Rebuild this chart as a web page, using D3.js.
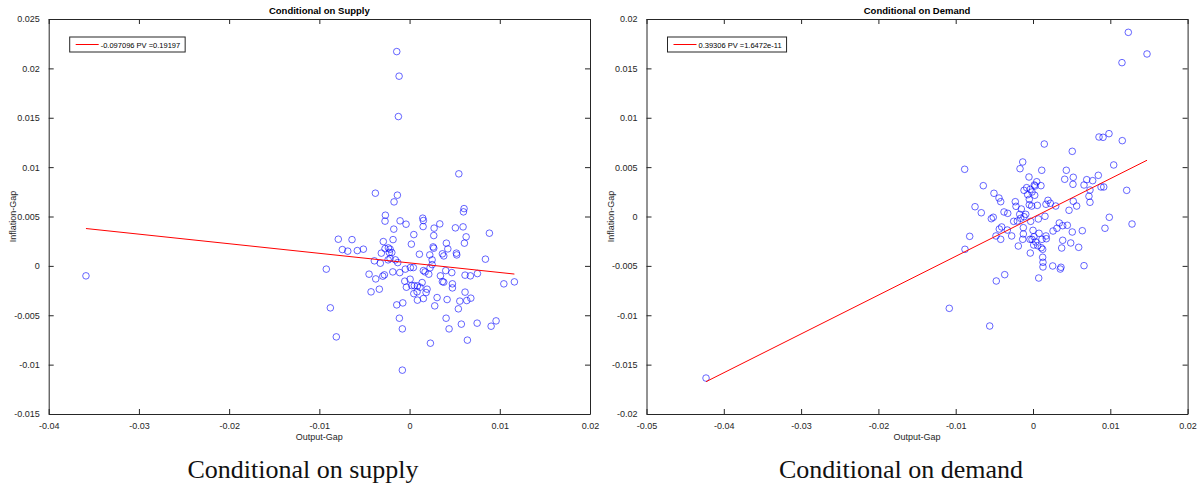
<!DOCTYPE html>
<html>
<head>
<meta charset="utf-8">
<script src="https://cdn.jsdelivr.net/npm/d3@7"></script>
<style>
  body { margin: 0; background: #fff; }
  svg { display: block; font-family: "Liberation Sans", Arial, sans-serif; }
</style>
</head>
<body>
<svg id="chart" width="1203" height="486"></svg>
<script>
// ---- supply shocks (left panel) ----
const supplyX = [
  -0.00142, -0.00116, -0.00124, 0.00546, -0.00379, -0.00135, -0.00172, -0.00268, -0.00272, -0.00105,
  -0.00039, 0.00146, 0.00153, 0.00604, 0.00597, 0.00335, 0.00150, 0.00272, -0.00175, 0.00508,
  0.00593, 0.00885, 0.00627, 0.00268, 0.00047, -0.00790, -0.00638, -0.00291, -0.00183, 0.00408,
  0.00608, 0.00020, -0.00745, -0.00685, -0.00579, -0.00512, -0.00272, -0.00235, -0.00216, 0.00261,
  0.00268, 0.00424, -0.00313, -0.00224, -0.00197, 0.00109, 0.00224, 0.00364, 0.00379, 0.00519,
  0.00523, 0.00841, -0.00390, -0.00324, -0.00238, -0.00216, -0.00157, -0.00131, 0.00250, 0.00250,
  0.00227, -0.00923, 0.00009, 0.00042, -0.00047, 0.00153, 0.00172, -0.00109, -0.00186, -0.00449,
  -0.00297, -0.00279, -0.00375, 0.00213, 0.00342, 0.00401, 0.00468, 0.00615, 0.00674, 0.00752,
  0.01162, 0.01045, -0.00053, 0.00006, 0.00139, 0.00364, 0.00379, 0.00475, 0.00475, -0.00035,
  0.00024, 0.00053, 0.00087, 0.00116, 0.00194, 0.00183, 0.00047, 0.00083, -0.00335, -0.00427,
  0.00615, 0.00305, 0.00153, 0.00087, 0.00416, 0.00557, 0.00634, 0.00679, -0.00142, -0.00075,
  0.00279, 0.00541, -0.00878, -0.00113, 0.00405, -0.00080, 0.00438, 0.00574, 0.00749, 0.00904,
  0.00959, -0.00812, 0.00231, 0.00641, -0.00080, -0.03587
];
const supplyY = [
  0.02170, 0.01921, 0.01512, 0.00932, 0.00736, 0.00716, 0.00648, 0.00513, 0.00453, 0.00456,
  0.00422, 0.00483, 0.00459, 0.00580, 0.00547, 0.00425, 0.00398, 0.00382, 0.00372, 0.00385,
  0.00395, 0.00331, 0.00294, 0.00307, 0.00317, 0.00270, 0.00266, 0.00246, 0.00266, 0.00230,
  0.00230, 0.00220, 0.00165, 0.00149, 0.00155, 0.00169, 0.00175, 0.00182, 0.00169, 0.00192,
  0.00179, 0.00172, 0.00129, 0.00135, 0.00135, 0.00118, 0.00111, 0.00122, 0.00101, 0.00129,
  0.00111, 0.00068, 0.00051, 0.00027, 0.00061, 0.00074, 0.00061, 0.00033, 0.00061, 0.00013,
  -0.00020, -0.00033, -0.00017, -0.00017, -0.00033, -0.00048, -0.00061, -0.00068, -0.00061, -0.00084,
  -0.00104, -0.00091, -0.00132, -0.00084, -0.00101, -0.00048, -0.00068, -0.00094, -0.00101, -0.00078,
  -0.00162, -0.00182, -0.00155, -0.00135, -0.00169, -0.00159, -0.00165, -0.00182, -0.00223, -0.00216,
  -0.00200, -0.00200, -0.00203, -0.00216, -0.00236, -0.00270, -0.00281, -0.00263, -0.00236, -0.00263,
  -0.00266, -0.00321, -0.00331, -0.00347, -0.00341, -0.00357, -0.00351, -0.00327, -0.00395, -0.00375,
  -0.00405, -0.00435, -0.00425, -0.00530, -0.00530, -0.00638, -0.00638, -0.00590, -0.00580, -0.00611,
  -0.00557, -0.00719, -0.00783, -0.00752, -0.01056, -0.00101
];

// ---- demand shocks (right panel) ----
const demandX = [
  0.01233, 0.01475, 0.01151, 0.00983, 0.00854, 0.00906, 0.01155, 0.00146, 0.00508, 0.01044,
  -0.00884, -0.00133, -0.00168, 0.00113, 0.00431, -0.00052, 0.00521, 0.00410, 0.00695, 0.00772,
  0.00845, -0.00643, 0.00048, 0.00017, 0.00103, -0.00082, -0.00035, -0.00116, 0.00517, 0.00660,
  0.00737, 0.00880, 0.00915, 0.01212, -0.00505, -0.00440, -0.00069, 0.00022, 0.00724, 0.00737,
  0.00026, -0.00013, -0.00418, -0.00048, -0.00229, -0.00220, -0.00048, -0.00017, 0.00056, 0.00194,
  0.00168, 0.00224, 0.00294, 0.00521, 0.00565, 0.00466, -0.00750, -0.00669, -0.00375, -0.00327,
  -0.00151, -0.00172, -0.00159, -0.00094, -0.00116, -0.00030, -0.00250, -0.00203, 0.00155, 0.00069,
  0.00987, 0.00931, -0.00539, -0.00514, -0.00436, -0.00405, -0.00332, -0.00125, 0.00000, 0.00340,
  0.00310, 0.00259, 0.00444, 0.00384, 0.00508, 0.00638, -0.00819, -0.00479, -0.00418, -0.00276,
  -0.00125, -0.00133, -0.00039, -0.00013, 0.00013, 0.00078, 0.00116, 0.00168, 0.00172, 0.00035,
  0.00009, 0.00061, 0.00107, 0.00125, -0.00190, 0.00384, 0.00488, 0.00591, 0.00371, -0.00880,
  -0.00035, 0.00125, 0.00129, 0.00129, 0.00255, 0.00362, 0.00353, 0.00660, -0.00366, -0.00475,
  0.00074, -0.01083, -0.00560, -0.04230, 0.01281
];
const demandY = [
  0.01865, 0.01646, 0.01558, 0.00839, 0.00805, 0.00802, 0.00768, 0.00734, 0.00660, 0.00522,
  0.00478, 0.00552, 0.00484, 0.00468, 0.00468, 0.00400, 0.00397, 0.00377, 0.00373, 0.00363,
  0.00417, 0.00312, 0.00352, 0.00319, 0.00312, 0.00292, 0.00275, 0.00265, 0.00326, 0.00319,
  0.00268, 0.00299, 0.00299, 0.00265, 0.00235, 0.00187, 0.00221, 0.00215, 0.00205, 0.00144,
  0.00309, 0.00248, 0.00150, 0.00174, 0.00150, 0.00103, 0.00119, 0.00106, 0.00113, 0.00164,
  0.00124, 0.00134, 0.00106, 0.00154, 0.00106, 0.00063, 0.00099, 0.00038, 0.00046, 0.00032,
  0.00076, 0.00022, -0.00018, 0.00022, -0.00002, -0.00049, -0.00049, -0.00046, 0.00002, -0.00025,
  -0.00008, -0.00119, -0.00022, -0.00008, -0.00127, -0.00106, -0.00137, -0.00113, -0.00140, -0.00066,
  -0.00119, -0.00147, -0.00089, -0.00093, -0.00157, -0.00144, -0.00201, -0.00197, -0.00231, -0.00197,
  -0.00177, -0.00231, -0.00231, -0.00231, -0.00205, -0.00170, -0.00231, -0.00197, -0.00225, -0.00258,
  -0.00289, -0.00296, -0.00316, -0.00332, -0.00299, -0.00241, -0.00268, -0.00312, -0.00319, -0.00332,
  -0.00370, -0.00413, -0.00464, -0.00511, -0.00501, -0.00514, -0.00532, -0.00498, -0.00589, -0.00653,
  -0.00623, -0.00930, -0.01109, -0.01636, -0.00076
];

// regression results (slope from legend, intercept)
const supplyFit = { slope: -0.097096, intercept: 0.0003, pv: "0.19197" };
const demandFit = { slope: 0.39306, intercept: -0.0001, pv: "1.6472e-11" };

// tick values
const supplyXTicks = [-0.04, -0.03, -0.02, -0.01, 0, 0.01, 0.02];
const supplyYTicks = [-0.015, -0.01, -0.005, 0, 0.005, 0.01, 0.015, 0.02, 0.025];
const demandXTicks = [-0.05, -0.04, -0.03, -0.02, -0.01, 0, 0.01, 0.02];
const demandYTicks = [-0.02, -0.015, -0.01, -0.005, 0, 0.005, 0.01, 0.015, 0.02];

const svg = d3.select("#chart");
svg.append("rect").attr("width", 1203).attr("height", 486).attr("fill", "#fff");

const axisColor = "#262626";
const fmt = (v) => (v === 0 ? "0" : String(+v.toFixed(4)));

function drawPanel(opts) {
  const { left, right, top, bottom } = opts;
  const xs = opts.xs, ys = opts.ys;

  const xScale = d3.scaleLinear().domain(d3.extent(opts.xTicks)).range([left, right]);
  const yScale = d3.scaleLinear().domain(d3.extent(opts.yTicks)).range([bottom, top]);

  const g = svg.append("g");

  // points
  g.append("g")
    .selectAll("circle")
    .data(xs.map((x, i) => [x, ys[i]]))
    .enter()
    .append("circle")
    .attr("cx", (d) => xScale(d[0]))
    .attr("cy", (d) => yScale(d[1]))
    .attr("r", 3.3)
    .attr("fill", "none")
    .attr("stroke", "#0000ff")
    .attr("stroke-width", 0.6);

  // fitted line over the range of the data
  const [x0, x1] = d3.extent(xs);
  const f = (x) => opts.fit.intercept + opts.fit.slope * x;
  g.append("line")
    .attr("x1", xScale(x0))
    .attr("y1", yScale(f(x0)))
    .attr("x2", xScale(x1))
    .attr("y2", yScale(f(x1)))
    .attr("stroke", "#ff0000")
    .attr("stroke-width", 1);

  // axes (MATLAB box style, ticks inward)
  const bottomAxis = d3.axisBottom(xScale).tickValues(opts.xTicks).tickFormat(fmt).tickSizeInner(-5).tickSizeOuter(0).tickPadding(9);
  const topAxis = d3.axisTop(xScale).tickValues(opts.xTicks).tickFormat("").tickSizeInner(-5).tickSizeOuter(0);
  const leftAxis = d3.axisLeft(yScale).tickValues(opts.yTicks).tickFormat(fmt).tickSizeInner(-5).tickSizeOuter(0).tickPadding(9);
  const rightAxis = d3.axisRight(yScale).tickValues(opts.yTicks).tickFormat("").tickSizeInner(-5).tickSizeOuter(0);

  const axes = [
    [bottomAxis, `translate(0,${bottom})`],
    [topAxis, `translate(0,${top})`],
    [leftAxis, `translate(${left},0)`],
    [rightAxis, `translate(${right},0)`],
  ];
  axes.forEach(([ax, tr]) => {
    const a = g.append("g").attr("transform", tr).call(ax);
    a.select(".domain").attr("stroke", axisColor).attr("stroke-width", 1);
    a.selectAll(".tick line").attr("stroke", axisColor).attr("stroke-width", 1);
    a.selectAll(".tick text").attr("fill", axisColor).style("font-size", "9px").style("font-family", "Liberation Sans, Arial, sans-serif");
  });

  // title
  g.append("text")
    .attr("x", (left + right) / 2)
    .attr("y", top - 5)
    .attr("text-anchor", "middle")
    .style("font-size", "9.5px")
    .style("font-weight", "bold")
    .attr("fill", "#000")
    .text(opts.title);

  // axis labels
  g.append("text")
    .attr("x", (left + right) / 2)
    .attr("y", bottom + 26)
    .attr("text-anchor", "middle")
    .style("font-size", "9px")
    .attr("fill", axisColor)
    .text("Output-Gap");

  g.append("text")
    .attr("transform", `translate(${left - 33},${(top + bottom) / 2}) rotate(-90)`)
    .attr("text-anchor", "middle")
    .style("font-size", "9px")
    .attr("fill", axisColor)
    .text("Inflation-Gap");

  // legend
  const lg = g.append("g").attr("transform", `translate(${left + 21},${top + 18})`);
  const label = `${opts.fit.slope} PV =${opts.fit.pv}`;
  const lt = lg.append("text")
    .attr("x", 31)
    .attr("y", 10.5)
    .style("font-size", "7.5px")
    .attr("fill", "#000")
    .text(label);
  const tw = lt.node().getComputedTextLength();
  lg.insert("rect", "text")
    .attr("width", 31 + tw + 5)
    .attr("height", 15)
    .attr("fill", "#fff")
    .attr("stroke", axisColor)
    .attr("stroke-width", 1);
  lg.append("line")
    .attr("x1", 6).attr("x2", 29)
    .attr("y1", 7.5).attr("y2", 7.5)
    .attr("stroke", "#ff0000")
    .attr("stroke-width", 1);

  // caption below (centred on its half of the page)
  svg.append("text")
    .attr("x", opts.captionX)
    .attr("y", 478)
    .attr("text-anchor", "middle")
    .style("font-family", "'Liberation Serif', 'DejaVu Serif', serif")
    .style("font-size", "26px")
    .attr("fill", "#111")
    .text(opts.caption);
}

drawPanel({
  left: 48.7, right: 590, top: 19, bottom: 414,
  xs: supplyX, ys: supplyY, fit: supplyFit,
  xTicks: supplyXTicks, yTicks: supplyYTicks,
  title: "Conditional on Supply", caption: "Conditional on supply",
  captionX: 303,
});

drawPanel({
  left: 646.5, right: 1187.6, top: 19, bottom: 414,
  xs: demandX, ys: demandY, fit: demandFit,
  xTicks: demandXTicks, yTicks: demandYTicks,
  title: "Conditional on Demand", caption: "Conditional on demand",
  captionX: 901,
});
</script>
</body>
</html>
